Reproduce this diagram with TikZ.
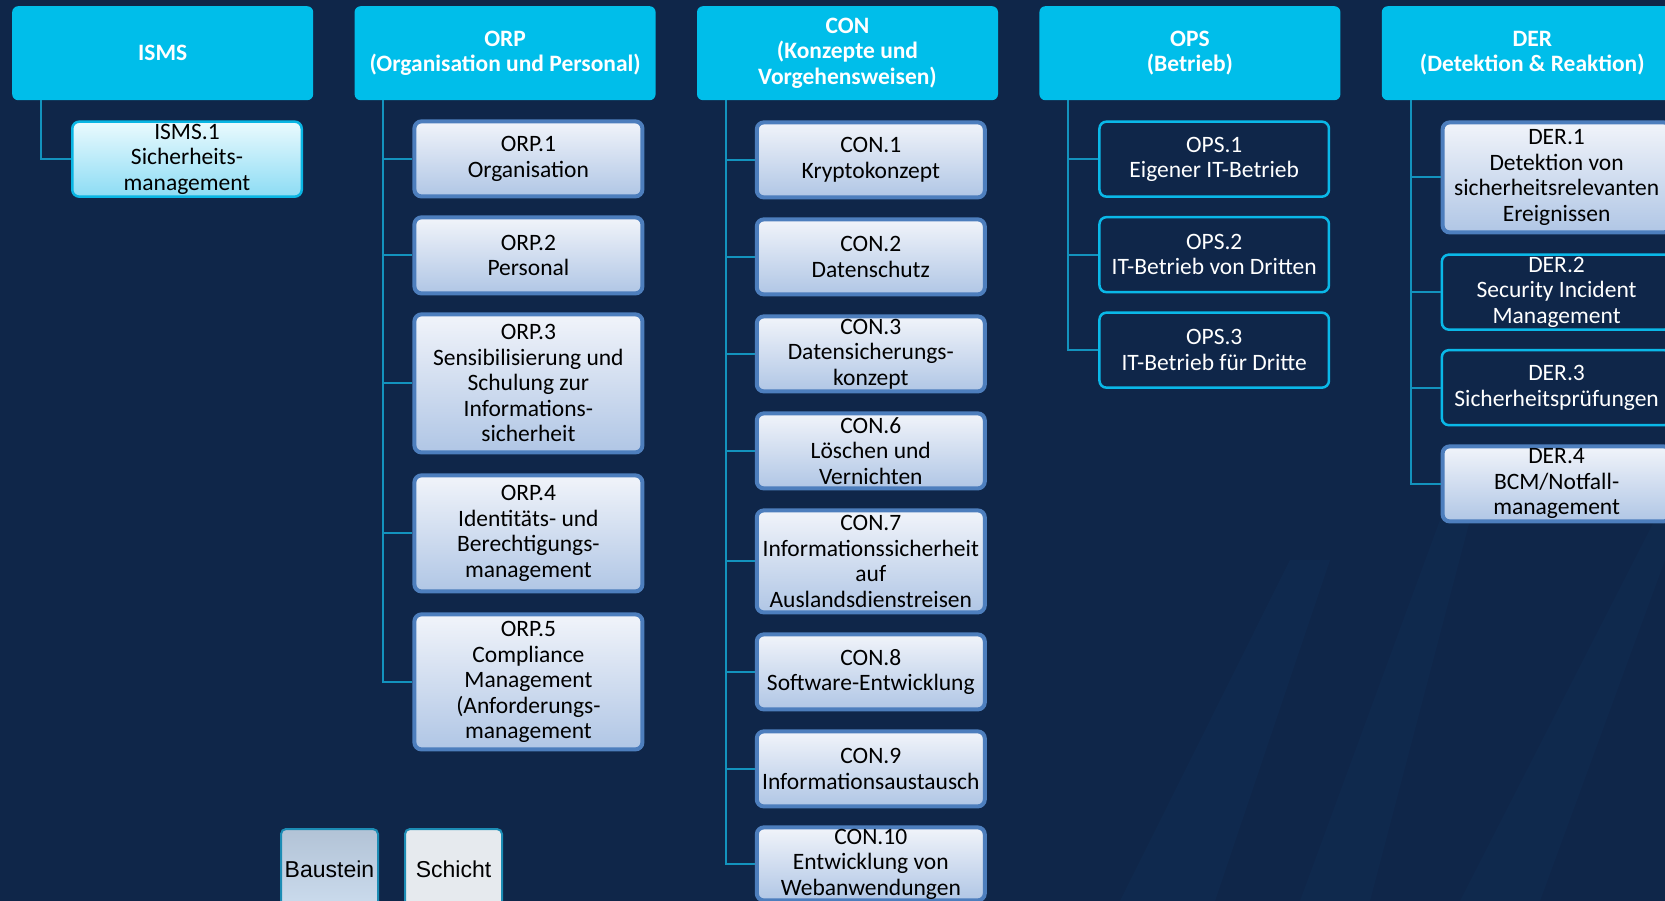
\documentclass[tikz,border=0pt]{standalone}
\usepackage{fontspec}
\setmainfont{Carlito}
\newfontfamily\legendfont{Liberation Sans}
\usetikzlibrary{positioning}
\definecolor{Navy}{HTML}{0F2649}
\definecolor{Streak}{HTML}{14406E}
\definecolor{HeadCyan}{HTML}{00BEEA}
\definecolor{Link}{HTML}{1393BE}
\definecolor{BoxLine}{HTML}{4D7EBD}
\definecolor{BoxTop}{HTML}{F1F4FA}
\definecolor{BoxBot}{HTML}{B0C6E5}
\definecolor{IsmsLine}{HTML}{0AB5E3}
\definecolor{IsmsTop}{HTML}{EAFAFE}
\definecolor{IsmsBot}{HTML}{8CDCF4}
\definecolor{DarkLine}{HTML}{0AB8E8}
\definecolor{LegLine}{HTML}{1C8CB4}
\definecolor{LegTop}{HTML}{B2C3D6}
\definecolor{LegBot}{HTML}{CCDCEE}
\definecolor{LegGray}{HTML}{E6EAEE}

\tikzset{
  layer/.style={fill=HeadCyan,rounded corners=6pt,text=white,font=\fontsize{23.5}{25.5}\selectfont\bfseries,
    minimum width=301pt,minimum height=94pt,align=center,inner sep=0pt},
  modbase/.style={rounded corners=7pt,align=center,inner sep=1pt,minimum height=75pt,
    font=\fontsize{23.5}{25.5}\selectfont},
  module/.style={modbase,draw=BoxLine,line width=4pt,top color=BoxTop,bottom color=BoxBot,minimum width=228pt},
  ismsmod/.style={modbase,draw=IsmsLine,line width=2.5pt,top color=IsmsTop,bottom color=IsmsBot,minimum width=229.5pt},
  darkmod/.style={modbase,draw=DarkLine,line width=2.5pt,text=white,minimum width=229.5pt},
  link/.style={draw=Link,line width=2pt},
  legend/.style={draw=LegLine,line width=2pt,rounded corners=5pt,font=\legendfont\fontsize{23}{26}\selectfont,
    minimum width=97pt,minimum height=80pt}
}

\begin{document}
\begin{tikzpicture}[x=1pt,y=-1pt]
  \path[use as bounding box,clip] (0,0) rectangle (1665,901);
  \fill[Navy] (0,0) rectangle (1665,901);
  % background streaks
  \fill[Streak,opacity=.15] (1120,901) -- (1215,901) -- (1330,560) -- (1290,560) -- cycle;
  \fill[Streak,opacity=.12] (1300,901) -- (1370,901) -- (1470,520) -- (1440,520) -- cycle;
  \fill[Streak,opacity=.12] (1460,901) -- (1540,901) -- (1665,560) -- (1665,500) -- cycle;

  % layers
  \node[layer,anchor=north west] (isms) at (12,6) {ISMS};
  \node[layer,right=41pt of isms] (orp) {ORP\\(Organisation und Personal)};
  \node[layer,right=41pt of orp] (con) {CON\\(Konzepte und\\Vorgehensweisen)};
  \node[layer,right=41pt of con] (ops) {OPS\\(Betrieb)};
  \node[layer,right=41pt of ops] (der) {DER\\(Detektion \& Reaktion)};

  % ISMS
  \node[ismsmod,anchor=north west] (isms1) at ([shift={(59pt,-20pt)}]isms.south west) {ISMS.1\\Sicherheits-\\management};

  % ORP
  \node[module,anchor=north west] (orp1) at ([shift={(58pt,-19pt)}]orp.south west) {ORP.1\\Organisation};
  \node[module,below=17pt of orp1,minimum height=76pt] (orp2) {ORP.2\\Personal};
  \node[module,below=17pt of orp2,minimum height=138pt] (orp3) {ORP.3\\Sensibilisierung und\\Schulung zur\\Informations-\\sicherheit};
  \node[module,below=19pt of orp3,minimum height=116pt] (orp4) {ORP.4\\Identitäts- und\\Berechtigungs-\\management};
  \node[module,below=19pt of orp4,minimum height=135pt] (orp5) {ORP.5\\Compliance\\Management\\(Anforderungs-\\management};

  % CON
  \node[module,anchor=north west] (con1) at ([shift={(58pt,-20pt)}]con.south west) {CON.1\\Kryptokonzept};
  \node[module,below=18pt of con1] (con2) {CON.2\\Datenschutz};
  \node[module,below=18pt of con2] (con3) {CON.3\\Datensicherungs-\\konzept};
  \node[module,below=18pt of con3] (con6) {CON.6\\Löschen und\\Vernichten};
  \node[module,below=18pt of con6,minimum height=102pt] (con7) {CON.7\\Informationssicherheit\\auf\\Auslandsdienstreisen};
  \node[module,below=18pt of con7] (con8) {CON.8\\Software-Entwicklung};
  \node[module,below=18pt of con8] (con9) {CON.9\\Informationsaustausch};
  \node[module,below=17pt of con9,minimum height=73pt] (con10) {CON.10\\Entwicklung von\\Webanwendungen};

  % OPS
  \node[darkmod,anchor=north west] (ops1) at ([shift={(59pt,-20pt)}]ops.south west) {OPS.1\\Eigener IT-Betrieb};
  \node[darkmod,below=18pt of ops1] (ops2) {OPS.2\\IT-Betrieb von Dritten};
  \node[darkmod,below=18pt of ops2] (ops3) {OPS.3\\IT-Betrieb für Dritte};

  % DER
  \node[module,anchor=north west,minimum height=110pt] (der1) at ([shift={(59pt,-20pt)}]der.south west) {DER.1\\Detektion von\\sicherheitsrelevanten\\Ereignissen};
  \node[darkmod,below=19pt of der1] (der2) {DER.2\\Security Incident\\Management};
  \node[darkmod,below=18pt of der2] (der3) {DER.3\\Sicherheitsprüfungen};
  \node[module,below=18pt of der3] (der4) {DER.4\\BCM/Notfall-\\management};

  % connectors
  \coordinate (ismsT) at ([xshift=29pt]isms.south west);
  \coordinate (orpT) at ([xshift=29pt]orp.south west);
  \coordinate (conT) at ([xshift=29pt]con.south west);
  \coordinate (opsT) at ([xshift=29pt]ops.south west);
  \coordinate (derT) at ([xshift=29pt]der.south west);
  \draw[link] (ismsT) |- (isms1.west);
  \draw[link] (orpT) |- (orp5.west);
  \foreach \b in {orp1,orp2,orp3,orp4} \draw[link] (\b.west) -- (\b.west -| orpT);
  \draw[link] (conT) |- (con10.west);
  \foreach \b in {con1,con2,con3,con6,con7,con8,con9} \draw[link] (\b.west) -- (\b.west -| conT);
  \draw[link] (opsT) |- (ops3.west);
  \foreach \b in {ops1,ops2} \draw[link] (\b.west) -- (\b.west -| opsT);
  \draw[link] (derT) |- (der4.west);
  \foreach \b in {der1,der2,der3} \draw[link] (\b.west) -- (\b.west -| derT);

  % legend
  \node[legend,top color=LegTop,bottom color=LegBot,anchor=north west] (baustein) at (280,828) {Baustein};
  \node[legend,fill=LegGray,right=25pt of baustein] (schicht) {Schicht};
\end{tikzpicture}
\end{document}
